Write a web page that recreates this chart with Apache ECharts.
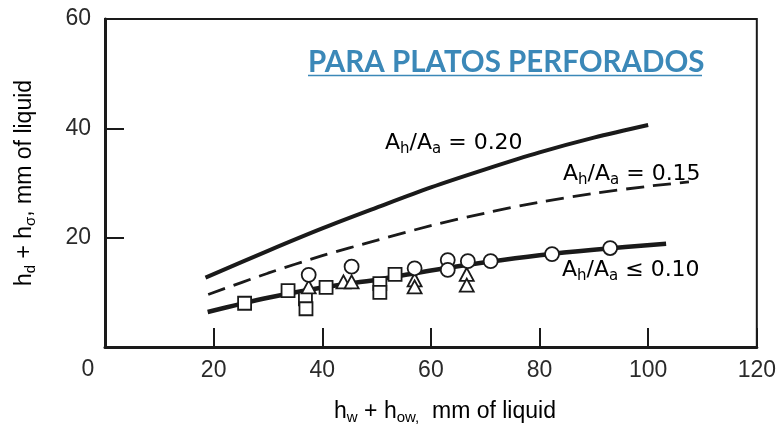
<!DOCTYPE html>
<html><head><meta charset="utf-8">
<script src="https://cdn.jsdelivr.net/npm/echarts@6/dist/echarts.min.js"></script>
<style>html,body{margin:0;padding:0;background:#fff}#c{width:779px;height:435px}</style>
</head><body><div id="c"></div>
<script>
// ---- data ----
const xTickValues = [0, 20, 40, 60, 80, 100, 120];
const yTickValues = [0, 20, 40, 60];
const curve20X = [18.5, 30, 40, 50, 60, 70, 80, 90, 100];
const curve20Y = [12.7, 17.6, 21.7, 25.5, 29.2, 32.5, 35.6, 38.3, 40.6];
const curve15X = [19, 30, 40, 50, 60, 70, 80, 90, 100, 107.5];
const curve15Y = [9.6, 13.5, 16.7, 19.5, 22.2, 24.5, 26.5, 28.1, 29.4, 30.2];
const curve10X = [18.9, 30, 40, 50, 60, 70, 80, 90, 103.3];
const curve10Y = [6.4, 9.0, 10.9, 12.3, 14.0, 15.5, 16.8, 17.8, 18.9];
const squaresX = [25.7, 33.7, 36.9, 37.0, 40.7, 50.6, 50.6, 53.4];
const squaresY = [8.0, 10.3, 8.8, 7.0, 10.9, 11.6, 10.0, 13.3];
const circlesX = [37.5, 45.4, 57.0, 63.1, 63.1, 66.8, 71.0, 82.3, 93.0];
const circlesY = [13.2, 14.7, 14.4, 15.9, 14.1, 15.7, 15.7, 17.0, 18.1];
const trianglesX = [37.5, 43.9, 45.4, 57.0, 57.0, 66.6, 66.6];
const trianglesY = [11.0, 11.9, 11.9, 12.3, 11.0, 13.3, 11.3];
const titleText = 'PARA PLATOS PERFORADOS';
const label20 = '{n|A}{s|h}{n|/A}{s|a}{n| = 0.20}';
const label15 = '{n|A}{s|h}{n|/A}{s|a}{n| = 0.15}';
const label10 = '{n|A}{s|h}{n|/A}{s|a}{n| ≤ 0.10}';
const xName = '{n|h}{s|w}{n| + h}{s|ow,}{n|  mm of liquid}';
const yName = '{n|h}{s|d}{n| + h}{s|σ}{n|, mm of liquid}';

const zip = (xs, ys) => xs.map((x, i) => [x, ys[i]]);
const FONT = 'Liberation Sans';
const LFONT = 'DejaVu Sans';
const INK = '#1a1a1a';
const richLbl = {
  n: {fontFamily: LFONT, fontSize: 22, color: INK, lineHeight: 28},
  s: {fontFamily: LFONT, fontSize: 15, color: INK, lineHeight: 28, padding: [13, 0, 0, 0]}
};
const richName = {
  n: {fontFamily: FONT, fontSize: 23, color: INK, lineHeight: 30},
  s: {fontFamily: FONT, fontSize: 15, color: INK, lineHeight: 30, padding: [12, 0, 0, 0]}
};

const chart = echarts.init(document.getElementById('c'));
const lineBase = {type: 'line', showSymbol: false, symbol: 'none', smooth: 0.3, silent: true, z: 2};
const markBase = {type: 'scatter', itemStyle: {color: '#fff', borderColor: INK, borderWidth: 1.8, opacity: 1}, z: 5, silent: true};

chart.setOption({
  animation: false,
  backgroundColor: '#fff',
  grid: {left: 105, right: 18, top: 19, bottom: 88, show: true, borderColor: INK, borderWidth: 2},
  xAxis: {
    type: 'value', min: 0, max: 120, interval: 20,
    axisLine: {show: true, onZero: false, lineStyle: {color: INK, width: 3}},
    axisTick: {show: true, inside: true, length: 19, lineStyle: {color: INK, width: 2}},
    splitLine: {show: false},
    axisLabel: {margin: 12, fontFamily: FONT, fontSize: 23, color: '#2a2a2a',
      formatter: v => (xTickValues.indexOf(v) > 0 ? String(v) : '')}
  },
  yAxis: {
    type: 'value', min: 0, max: 60, interval: 20,
    axisLine: {show: true, onZero: false, lineStyle: {color: INK, width: 3}},
    axisTick: {show: true, inside: true, length: 19, lineStyle: {color: INK, width: 2}},
    splitLine: {show: false},
    axisLabel: {margin: 14, fontFamily: FONT, fontSize: 23, color: '#2a2a2a',
      formatter: v => (yTickValues.indexOf(v) > 0 ? String(v) : '')}
  },
  series: [
    Object.assign({}, lineBase, {name: '0.20', data: zip(curve20X, curve20Y), lineStyle: {color: INK, width: 4}}),
    Object.assign({}, lineBase, {name: '0.15', data: zip(curve15X, curve15Y), lineStyle: {color: INK, width: 2.8, type: [18, 9]}}),
    Object.assign({}, lineBase, {name: '0.10', data: zip(curve10X, curve10Y), lineStyle: {color: INK, width: 4.5}}),
    Object.assign({}, markBase, {name: 'sq', symbol: 'rect', symbolSize: 13, data: zip(squaresX, squaresY)}),
    Object.assign({}, markBase, {name: 'tri', symbol: 'triangle', symbolSize: [14, 13], data: zip(trianglesX, trianglesY)}),
    Object.assign({}, markBase, {name: 'ci', symbol: 'circle', symbolSize: 14, data: zip(circlesX, circlesY)})
  ],
  graphic: [
    {type: 'text', x: 308, y: 47, z: 10, style: {text: titleText, fontFamily: 'Lato', fontWeight: 'bold', fontSize: 29.5, fill: '#3b88b8'}},
    {type: 'line', z: 10, shape: {x1: 308, y1: 75.5, x2: 702, y2: 75.5}, style: {stroke: '#3b88b8', lineWidth: 1.5}},
    {type: 'text', x: 385, y: 129, z: 10, style: {text: label20, rich: richLbl}},
    {type: 'text', x: 563, y: 160, z: 10, style: {text: label15, rich: richLbl}},
    {type: 'text', x: 562, y: 256, z: 10, style: {text: label10, rich: richLbl}},
    {type: 'text', x: 88, y: 370, z: 10, style: {text: '0', fontFamily: FONT, fontSize: 23, fill: '#2a2a2a', align: 'center', verticalAlign: 'middle'}},
    {type: 'text', x: 445, y: 412, z: 10, style: {text: xName, rich: richName, align: 'center', verticalAlign: 'middle'}},
    {type: 'text', x: 25, y: 183, rotation: Math.PI / 2, z: 10, style: {text: yName, rich: richName, align: 'center', verticalAlign: 'middle'}}
  ]
});
</script>
</body></html>
